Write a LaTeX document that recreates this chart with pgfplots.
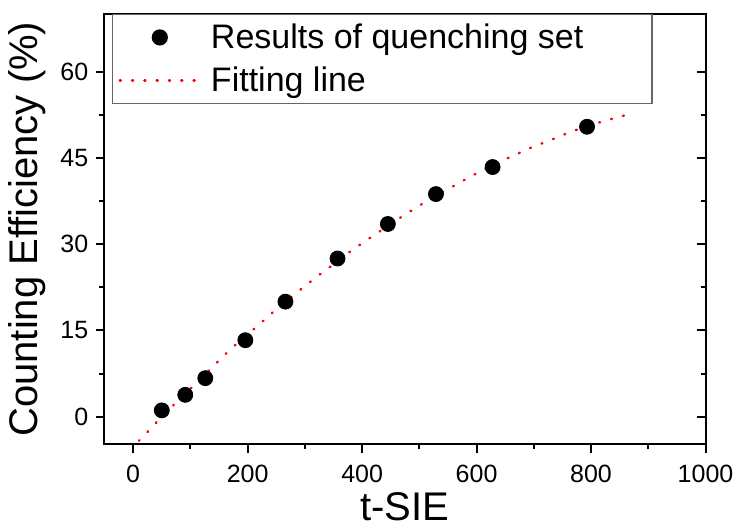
\documentclass[border=0pt]{standalone}
\usepackage{pgfplots}
\usepackage{pgfplotstable}
\pgfplotsset{compat=1.18}
\usepackage{fontspec}
\setmainfont{Liberation Sans}

% measured quenching set
\pgfplotstableread{
x y
50 1.1
91 3.8
126 6.7
196 13.3
266 20.0
357 27.5
445 33.5
529 38.7
628 43.4
793 50.4
}\quench

% fitting curve
\pgfplotstableread{
x y
10 -4.2
14 -3.8
33 -1.8
53 0.3
73 2.26
94 4.29
114 6.26
135 8.3
155 10.26
175 12.17
218 15.83
238 17.63
259 19.43
280 21.12
301 22.78
322 24.42
343 25.98
363 27.55
384 29.04
405 30.5
426 31.89
468 34.68
488 35.95
509 37.22
551 39.6
572 40.77
593 41.92
613 42.96
634 43.95
655 44.97
676 45.91
697 46.85
718 47.65
739 48.47
759 49.29
780 50.04
801 50.73
822 51.38
843 51.95
864 52.52
}\fitline

\tikzset{fitdots/.style={red, line width=1.2pt, line cap=round,
  dash pattern=on 0.5pt off 5.65pt}}

\pgfplotsset{
  base/.style={
    scale only axis,
    width=300.75pt, height=215.15pt,
    xmin=-51, xmax=1000, ymin=-4.8, ymax=70,
    xtick={0,200,...,1000}, ytick={0,15,...,60},
    minor x tick num=1, minor y tick num=1,
    major tick length=4.2pt, minor tick length=2.4pt,
    every tick/.append style={black, line width=1pt},
    axis line style={line width=1pt},
    /pgf/number format/assume math mode=true,
    /pgf/number format/1000 sep={},
  }
}

\begin{document}
\begin{tikzpicture}
\useasboundingbox (-52pt,-41.35pt) rectangle (317pt,222.15pt);

% inward ticks on the right side
\begin{axis}[base, ytick pos=right, tick align=inside,
  xtick=\empty, yticklabels={}, axis line style={draw=none}]
\end{axis}

\begin{axis}[base,
  xtick pos=left, ytick pos=left, tick align=outside,
  ticklabel style={font=\fontsize{12.5}{15}\selectfont},
  xticklabel style={anchor=center, inner sep=0pt, yshift=-10.4pt},
  yticklabel style={anchor=east, inner sep=0pt, xshift=-3.5pt},
  xlabel={t-SIE},
  ylabel={Counting Efficiency (\%)},
  label style={font=\fontsize{20}{24}\selectfont},
  xlabel style={at={(rel axis cs:0.5,-0.144)}, anchor=center, inner sep=0pt},
  ylabel style={at={(rel axis cs:-0.1272,0.5)}, anchor=center, inner sep=0pt},
  legend cell align=left,
  legend style={
    at={(rel axis cs:0,1)}, anchor=north west, xshift=4pt,
    draw=black!60, line width=0.6pt, fill=white,
    inner xsep=3pt, inner ysep=4.5pt,
    row sep=7.65pt, column sep=7.5pt,
    font=\fontsize{17}{20}\selectfont,
    nodes={inner sep=0pt},
  },
]
\addplot[only marks, mark=*, mark size=3.75pt, black,
  legend image code/.code={
    \path[draw=none] (0pt,0pt) -- (37.5pt,0pt);
    \fill[black] (20pt,0pt) circle (3.75pt);}]
  table {\quench};
\addlegendentry{\makebox[217.5pt][l]{Results of quenching set}}

\addplot[fitdots, smooth,
  legend image code/.code={\draw[fitdots] (0pt,0pt) -- (37.5pt,0pt);}]
  table {\fitline};
\addlegendentry{Fitting line}
\end{axis}
\end{tikzpicture}
\end{document}
